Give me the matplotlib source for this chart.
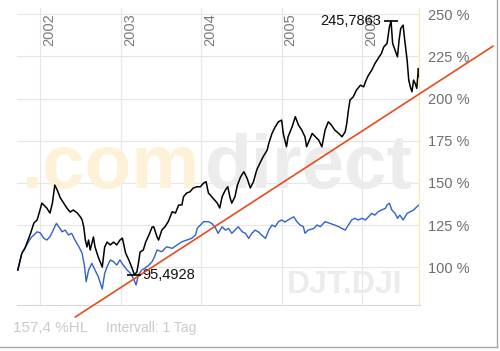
import matplotlib
matplotlib.use("Agg")
import matplotlib.pyplot as plt
from matplotlib.lines import Line2D

plt.rcParams['font.family'] = ['Liberation Sans', 'DejaVu Sans']

# DJT.DJI, normalised to 100 % (fractional year, percent)
djt_years = [2001.72, 2001.77, 2001.81, 2001.88, 2001.92, 2001.96, 2002.02, 2002.08, 2002.12, 2002.15,
             2002.18, 2002.21, 2002.25, 2002.29, 2002.33, 2002.37, 2002.41, 2002.46, 2002.50, 2002.52,
             2002.54, 2002.56, 2002.58, 2002.60, 2002.62, 2002.66, 2002.68, 2002.72, 2002.75, 2002.77,
             2002.80, 2002.83, 2002.87, 2002.91, 2002.95, 2002.99, 2003.02, 2003.06, 2003.10, 2003.14,
             2003.17, 2003.20, 2003.22, 2003.24, 2003.28, 2003.31, 2003.35, 2003.39, 2003.41, 2003.45,
             2003.47, 2003.51, 2003.55, 2003.59, 2003.64, 2003.68, 2003.72, 2003.76, 2003.78, 2003.82,
             2003.86, 2003.90, 2003.95, 2003.99, 2004.03, 2004.06, 2004.09, 2004.13, 2004.20, 2004.23,
             2004.26, 2004.30, 2004.33, 2004.36, 2004.38, 2004.42, 2004.45, 2004.49, 2004.53, 2004.57,
             2004.61, 2004.65, 2004.69, 2004.73, 2004.77, 2004.82, 2004.84, 2004.88, 2004.92, 2004.96,
             2005.00, 2005.02, 2005.06, 2005.08, 2005.13, 2005.17, 2005.21, 2005.25, 2005.29, 2005.31,
             2005.38, 2005.42, 2005.46, 2005.50, 2005.54, 2005.58, 2005.62, 2005.66, 2005.71, 2005.75,
             2005.79, 2005.81, 2005.83, 2005.85, 2005.89, 2005.93, 2005.98, 2006.02, 2006.05, 2006.08,
             2006.12, 2006.16, 2006.20, 2006.24, 2006.27, 2006.31, 2006.34, 2006.36, 2006.38, 2006.41,
             2006.44, 2006.46, 2006.48, 2006.51, 2006.53, 2006.56, 2006.58, 2006.60, 2006.62, 2006.64,
             2006.66, 2006.68, 2006.70, 2006.71]
djt_vals = [98.3, 108.2, 111.4, 120.3, 126.2, 128.0, 138.0, 135.1, 132.1, 138.0,
            148.7, 145.7, 141.0, 138.0, 135.1, 132.7, 133.9, 132.1, 129.7, 128.0,
            123.8, 116.1, 112.0, 116.1, 110.2, 117.9, 112.0, 106.0, 102.5, 100.1,
            112.0, 114.9, 113.2, 114.9, 113.2, 116.1, 117.3, 108.4, 104.3, 99.5,
            95.4928, 97.2, 102.5, 109.0, 110.2, 114.9, 119.1, 123.8, 124.0, 118.1,
            116.1, 122.0, 124.0, 127.0, 132.9, 132.1, 136.9, 136.9, 141.8, 144.0,
            144.7, 146.9, 147.7, 147.7, 149.9, 150.7, 144.0, 141.8, 138.0, 135.1,
            141.8, 145.7, 147.7, 141.0, 138.0, 141.8, 148.7, 153.6, 156.6, 152.8,
            147.0, 150.7, 157.6, 161.7, 165.5, 169.4, 173.4, 179.3, 183.2, 186.2,
            187.2, 179.3, 171.4, 177.3, 183.2, 189.2, 184.2, 181.3, 177.3, 171.4,
            179.3, 177.3, 175.4, 171.4, 181.3, 186.2, 184.2, 181.3, 179.3, 177.3,
            180.3, 185.3, 193.1, 199.1, 201.0, 205.0, 207.9, 206.9, 210.9, 213.9,
            216.8, 220.8, 223.8, 226.7, 230.6, 232.6, 242.5, 245.7863, 232.6, 228.7,
            224.7, 234.6, 241.5, 243.5, 234.6, 222.7, 210.9, 206.9, 204.0, 210.9,
            208.9, 206.0, 217.8, 212.9]

# comparison index (blue)
cmp_years = [2001.72, 2001.77, 2001.81, 2001.88, 2001.92, 2001.96, 2002.00, 2002.04, 2002.08, 2002.12,
             2002.17, 2002.20, 2002.23, 2002.27, 2002.31, 2002.35, 2002.39, 2002.43, 2002.48, 2002.52,
             2002.55, 2002.57, 2002.60, 2002.64, 2002.68, 2002.72, 2002.77, 2002.80, 2002.83, 2002.87,
             2002.91, 2002.95, 2002.99, 2003.03, 2003.08, 2003.12, 2003.16, 2003.19, 2003.22, 2003.26,
             2003.30, 2003.35, 2003.39, 2003.42, 2003.45, 2003.51, 2003.57, 2003.64, 2003.70, 2003.76,
             2003.82, 2003.88, 2003.93, 2003.95, 2003.99, 2004.03, 2004.09, 2004.13, 2004.17, 2004.21,
             2004.26, 2004.30, 2004.34, 2004.38, 2004.42, 2004.46, 2004.51, 2004.55, 2004.59, 2004.63,
             2004.67, 2004.71, 2004.75, 2004.80, 2004.84, 2004.88, 2004.92, 2004.96, 2005.00, 2005.04,
             2005.08, 2005.15, 2005.19, 2005.23, 2005.27, 2005.29, 2005.33, 2005.40, 2005.44, 2005.48,
             2005.54, 2005.60, 2005.66, 2005.71, 2005.75, 2005.79, 2005.83, 2005.87, 2005.91, 2005.95,
             2006.00, 2006.04, 2006.08, 2006.12, 2006.16, 2006.20, 2006.24, 2006.29, 2006.31, 2006.34,
             2006.37, 2006.41, 2006.44, 2006.47, 2006.51, 2006.56, 2006.60, 2006.64, 2006.68, 2006.71]
cmp_vals = [98.3, 108.4, 111.4, 117.3, 119.1, 121.0, 120.3, 117.3, 116.1, 118.1,
            123.0, 126.0, 124.0, 121.0, 122.0, 119.1, 120.1, 116.1, 112.1, 108.2,
            100.3, 91.4, 98.3, 102.3, 98.3, 94.4, 87.1, 96.4, 100.3, 104.3,
            103.3, 101.3, 104.3, 101.3, 98.3, 96.4, 93.0, 89.5, 95.5, 98.3,
            99.4, 101.3, 103.3, 106.2, 110.2, 109.2, 112.1, 111.2, 113.2, 115.1,
            116.1, 117.1, 119.1, 123.0, 125.0, 127.0, 127.0, 126.0, 124.0, 120.1,
            124.0, 122.0, 123.0, 120.1, 122.0, 124.0, 121.0, 120.1, 117.1, 120.1,
            122.0, 121.0, 119.1, 117.1, 122.0, 125.0, 124.0, 127.0, 128.0, 126.8,
            128.0, 129.9, 127.0, 125.0, 124.0, 120.1, 122.0, 123.0, 125.0, 124.0,
            127.0, 126.0, 125.0, 124.0, 123.0, 122.0, 125.0, 128.0, 129.0, 128.0,
            129.0, 128.0, 129.9, 131.9, 130.9, 132.9, 133.9, 134.9, 136.9, 137.9,
            133.9, 131.9, 129.0, 130.9, 128.0, 131.9, 132.9, 133.9, 135.8, 136.9]

# trend line end points
trend_years = [2002.435, 2007.627]
trend_vals = [70.5, 231.0]

year_ticks = [2002, 2003, 2004, 2005, 2006]
pct_ticks = [100, 125, 150, 175, 200, 225, 250]
pct_labels = ['100 %', '125 %', '150 %', '175 %', '200 %', '225 %', '250 %']

fig = plt.figure(figsize=(5.0, 3.51), dpi=100)
ax = fig.add_axes([0.034, 0.131, 0.806, 0.846])
ax.set_xlim(2001.71, 2006.72)
ax.set_ylim(77.6, 253.6)

ax.set_xticks(year_ticks)
ax.set_xticklabels([])
ax.set_yticks(pct_ticks)
ax.set_yticklabels(pct_labels)
ax.yaxis.tick_right()
ax.tick_params(axis='both', length=0)
ax.tick_params(axis='y', pad=6, labelsize=10.5, labelcolor='#6e6e6e')
ax.grid(True, color='#e6e6e6', lw=0.8)
ax.set_axisbelow(True)
for s in ['top', 'left', 'right']:
    ax.spines[s].set_visible(False)
ax.spines['bottom'].set_color('#d8d8d8')
ax.spines['bottom'].set_linewidth(0.8)
ax.axvline(ax.get_xlim()[1], color='#f6e7a6', lw=1.6, zorder=3)

for yr in year_ticks:
    ax.annotate(str(yr), xy=(yr, 1), xycoords=('data', 'axes fraction'),
                xytext=(1.5, -3.6), textcoords='offset points', rotation=90,
                ha='left', va='top', fontsize=10.5, color='#7c7c7c')

# watermarks
ax.text(0.044, 0.464, '.com', transform=fig.transFigure, fontsize=55, fontweight='bold',
        color='#fdf2d8', va='baseline', ha='left', zorder=1)
ax.text(0.41, 0.464, 'direct', transform=fig.transFigure, fontsize=55, fontweight='bold',
        color='#ececec', va='baseline', ha='left', zorder=1)
ax.text(0.574, 0.165, 'DJT.DJI', transform=fig.transFigure, fontsize=23, fontweight='bold',
        color='#ececec', va='baseline', ha='left', zorder=1)

ax.plot(cmp_years, cmp_vals, color='#2f62cc', lw=1.0, zorder=2)
ax.plot(djt_years, djt_vals, color='black', lw=1.1, zorder=2.5)
ax.plot(trend_years, trend_vals, color='#ea4a1e', lw=1.2, clip_on=False, zorder=4)

# high / low markers
i_hi = djt_vals.index(max(djt_vals))
i_lo = djt_vals.index(min(djt_vals))
ax.plot(djt_years[i_hi], djt_vals[i_hi], marker='_', ms=10, mew=1.2, color='black', zorder=5)
ax.plot(djt_years[i_lo], djt_vals[i_lo], marker='_', ms=10, mew=1.2, color='black', zorder=5)
ax.annotate('245,7863', xy=(djt_years[i_hi], djt_vals[i_hi]), xytext=(-7, 0),
            textcoords='offset points', ha='right', va='center', fontsize=10.5, color='#111111')
ax.annotate('95,4928', xy=(djt_years[i_lo], djt_vals[i_lo]), xytext=(5.5, 0),
            textcoords='offset points', ha='left', va='center', fontsize=10.5, color='#111111')

fig.text(0.026, 0.054, '157,4 %HL', fontsize=11, color='#cacaca', va='baseline')
fig.text(0.212, 0.054, 'Intervall: 1 Tag', fontsize=10, color='#cacaca', va='baseline')

# frame at right and bottom of the picture
fig.add_artist(Line2D([0.994, 0.994], [0.0114, 1.0], transform=fig.transFigure, color='#a8a8a8', lw=1.0))
fig.add_artist(Line2D([0.0, 0.994], [0.0114, 0.0114], transform=fig.transFigure, color='#a8a8a8', lw=1.0))

fig.savefig('out.png', dpi=100)
